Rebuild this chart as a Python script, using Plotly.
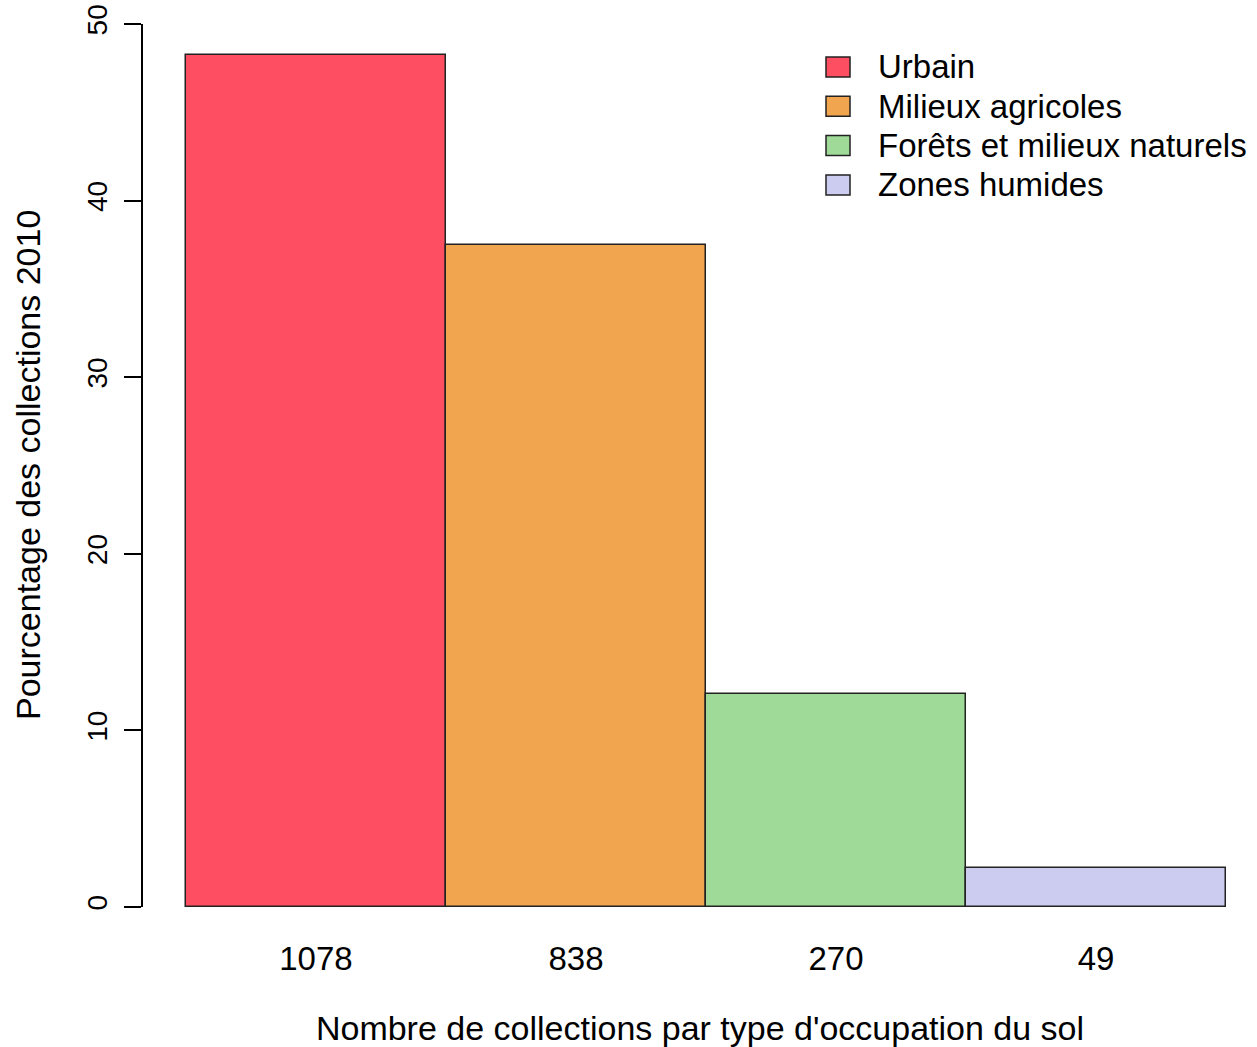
import plotly.graph_objects as go

categories = ["Urbain", "Milieux agricoles", "Forêts et milieux naturels", "Zones humides"]
counts = [1078, 838, 270, 49]
colors = ["#FE4F62", "#F0A54E", "#A0DA98", "#CCCCF0"]
y_ticks = [0, 10, 20, 30, 40, 50]

total = sum(counts)
pct = [c / total * 100 for c in counts]
xpos = [i + 0.5 for i in range(len(counts))]
tick_text = [str(c) for c in counts]

FONT = "Liberation Sans, Arial, sans-serif"
W, H = 1257, 1047
ML, MR, MT, MB = 143, 0, 24, 140

fig = go.Figure()
fig.add_trace(go.Bar(
    x=xpos, y=pct, width=1,
    marker=dict(color=colors, line=dict(color="#222222", width=1.5)),
    showlegend=False, hoverinfo="skip",
))

# legend drawn in paper coordinates
pw = W - ML - MR
ph = H - MT - MB
def px_to_paper_x(px):
    return (px - ML) / pw
def px_to_paper_y(py):
    return (H - MB - py) / ph

leg_top = 67
leg_step = 39.3
for i, (name, col) in enumerate(zip(categories, colors)):
    cy = leg_top + i * leg_step
    fig.add_shape(type="rect", xref="paper", yref="paper",
                  x0=px_to_paper_x(826), x1=px_to_paper_x(850),
                  y0=px_to_paper_y(cy + 10), y1=px_to_paper_y(cy - 10),
                  fillcolor=col, line=dict(color="#222222", width=1.5))
    fig.add_annotation(xref="paper", yref="paper",
                       x=px_to_paper_x(876), y=px_to_paper_y(cy),
                       text=name, showarrow=False, xanchor="left", yanchor="middle",
                       font=dict(family=FONT, size=33, color="black"))

# y-axis title
fig.add_annotation(xref="paper", yref="paper",
                   x=px_to_paper_x(28), y=px_to_paper_y(465),
                   text="Pourcentage des collections 2010", textangle=-90,
                   showarrow=False, xanchor="center", yanchor="middle",
                   font=dict(family=FONT, size=34, color="black"))

fig.update_layout(
    width=W, height=H,
    margin=dict(l=ML, r=MR, t=MT, b=MB, autoexpand=False),
    plot_bgcolor="white", paper_bgcolor="white",
    font=dict(family=FONT, color="black"),
    bargap=0,
    xaxis=dict(
        range=[-0.165, 4.119], showgrid=False, zeroline=False, showline=False,
        tickvals=xpos, ticktext=tick_text, ticks="", ticklabelstandoff=29,
        tickfont=dict(size=33),
        title=dict(text="Nombre de collections par type d'occupation du sol",
                   font=dict(size=34), standoff=44),
    ),
    yaxis=dict(
        range=[0, 50], showgrid=False, zeroline=False, showline=True,
        linecolor="black", linewidth=1.5,
        tickvals=y_ticks, ticks="outside", ticklen=17, tickwidth=1.5, tickcolor="black",
        tickangle=-90, tickfont=dict(size=28), ticklabelstandoff=6,
    ),
)

fig.write_html("out.html", config={"displayModeBar": False},
               post_script="document.body.style.margin='0px';")
